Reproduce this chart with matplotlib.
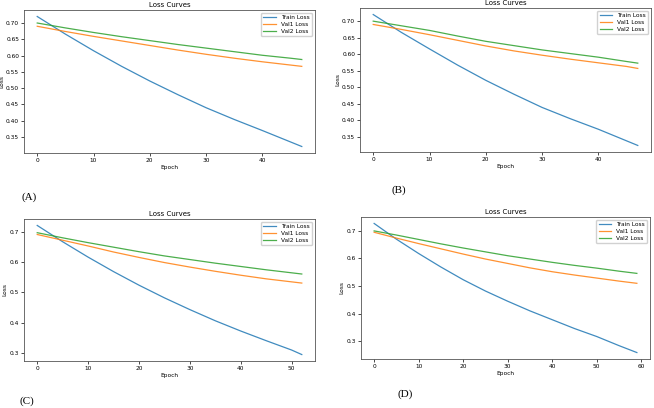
import matplotlib.pyplot as plt

# --- dati (valori ogni 5 epoche + ultima epoca) ---
epochs_a = [0, 5, 10, 15, 20, 25, 30, 35, 40, 45, 47]
train_a = [0.720, 0.666, 0.615, 0.567, 0.522, 0.480, 0.440, 0.404, 0.370, 0.335, 0.321]
val1_a = [0.690, 0.674, 0.659, 0.645, 0.631, 0.617, 0.604, 0.592, 0.581, 0.571, 0.567]
val2_a = [0.700, 0.685, 0.671, 0.658, 0.646, 0.634, 0.623, 0.612, 0.601, 0.592, 0.588]

epochs_b = [0, 5, 10, 15, 20, 25, 30, 35, 40, 45, 47]
train_b = [0.720, 0.666, 0.616, 0.567, 0.521, 0.479, 0.439, 0.405, 0.373, 0.338, 0.324]
val1_b = [0.690, 0.675, 0.659, 0.642, 0.625, 0.610, 0.597, 0.585, 0.574, 0.563, 0.557]
val2_b = [0.700, 0.686, 0.672, 0.655, 0.639, 0.626, 0.613, 0.602, 0.591, 0.578, 0.573]

epochs_c = [0, 5, 10, 15, 20, 25, 30, 35, 40, 45, 50, 52]
train_c = [0.722, 0.668, 0.617, 0.569, 0.524, 0.482, 0.443, 0.406, 0.372, 0.340, 0.309, 0.294]
val1_c = [0.692, 0.673, 0.654, 0.634, 0.616, 0.599, 0.584, 0.570, 0.557, 0.545, 0.535, 0.531]
val2_c = [0.698, 0.681, 0.665, 0.650, 0.635, 0.621, 0.609, 0.597, 0.586, 0.575, 0.565, 0.561]

epochs_d = [0, 5, 10, 15, 20, 25, 30, 35, 40, 45, 50, 55, 59]
train_d = [0.727, 0.670, 0.618, 0.569, 0.523, 0.482, 0.445, 0.410, 0.378, 0.346, 0.317, 0.284, 0.259]
val1_d = [0.695, 0.674, 0.654, 0.635, 0.616, 0.598, 0.582, 0.566, 0.552, 0.540, 0.529, 0.518, 0.510]
val2_d = [0.700, 0.685, 0.669, 0.653, 0.638, 0.624, 0.610, 0.598, 0.586, 0.575, 0.565, 0.554, 0.546]

panels = [
    ('(A)', epochs_a, train_a, val1_a, val2_a),
    ('(B)', epochs_b, train_b, val1_b, val2_b),
    ('(C)', epochs_c, train_c, val1_c, val2_c),
    ('(D)', epochs_d, train_d, val1_d, val2_d),
]

# posizioni (pixel) degli assi: left, top, right, bottom
boxes = [(24, 10, 315, 153), (360, 8, 651, 152),
         (24, 219, 315, 361), (361, 217, 650, 359)]
# posizioni delle etichette (A)..(D)
letter_pos = [(22, 197), (392, 190), (20, 401), (397, 394)]

W, H = 654, 408
fig = plt.figure(figsize=(W / 100, H / 100), dpi=100)

for (letter, ep, tr, v1, v2), (l, t, r, b), (lx, ly) in zip(panels, boxes, letter_pos):
    ax = fig.add_axes([l / W, 1 - b / H, (r - l) / W, (b - t) / H])
    ax.plot(ep, tr, color='#1f77b4', linewidth=0.9, alpha=0.85, label='Train Loss')
    ax.plot(ep, v1, color='#ff7f0e', linewidth=0.9, alpha=0.85, label='Val1 Loss')
    ax.plot(ep, v2, color='#2ca02c', linewidth=0.9, alpha=0.85, label='Val2 Loss')
    ax.set_title('Loss Curves', fontsize=5, pad=2)
    ax.set_xlabel('Epoch', fontsize=4.2, labelpad=1.5)
    ax.set_ylabel('Loss', fontsize=4.2, labelpad=1.5)
    ax.tick_params(labelsize=4.2, length=2, width=0.5, pad=1.5)
    for s in ax.spines.values():
        s.set_linewidth(0.6)
        s.set_color('#555555')
    ax.legend(loc='upper right', fontsize=4.2, handlelength=2.2,
              borderpad=0.4, labelspacing=0.3, framealpha=0.9)
    fig.text(lx / W, 1 - ly / H, letter, fontsize=8, family='Liberation Serif',
             ha='left', va='center')

fig.savefig('out.png', dpi=100)
